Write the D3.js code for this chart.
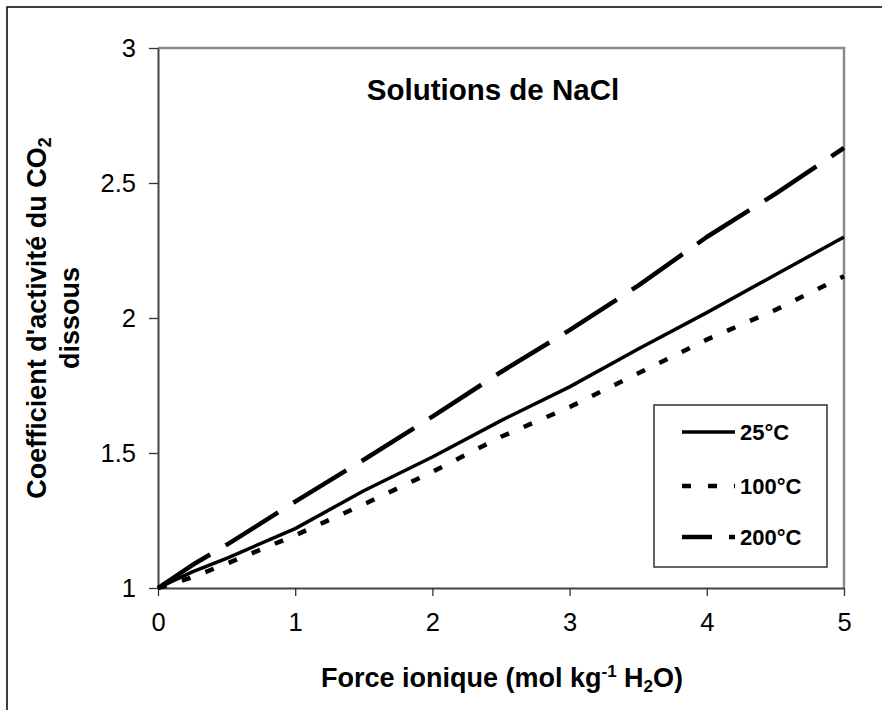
<!DOCTYPE html>
<html>
<head>
<meta charset="utf-8">
<script src="https://cdn.jsdelivr.net/npm/d3@7"></script>
<style>
  html, body { margin: 0; padding: 0; background: #fff; }
  svg { display: block; }
  text { font-family: "Liberation Sans", Arial, sans-serif; fill: #000; }
</style>
</head>
<body>
<script>
// Ionic strength (mol/kg H2O) and activity coefficient of dissolved CO2 in NaCl brines
const ionicStrength = [0, 0.25, 0.5, 1, 1.5, 2, 2.5, 3, 3.5, 4, 4.5, 5];
const gamma25  = [1, 1.06, 1.11, 1.22, 1.36, 1.485, 1.62, 1.745, 1.885, 2.02, 2.16, 2.30];
const gamma100 = [1, 1.04, 1.09, 1.195, 1.31, 1.43, 1.56, 1.67, 1.795, 1.92, 2.03, 2.155];
const gamma200 = [1, 1.085, 1.16, 1.32, 1.475, 1.635, 1.80, 1.955, 2.12, 2.30, 2.46, 2.63];
const seriesNames = ["25°C", "100°C", "200°C"];
const xTicks = [0, 1, 2, 3, 4, 5];
const yTicks = [1, 1.5, 2, 2.5, 3];
const yTickLabels = ["1", "1.5", "2", "2.5", "3"];

const W = 882, H = 710;
const svg = d3.select("body").append("svg").attr("width", W).attr("height", H);

// outer chart border
svg.append("rect").attr("x", 7).attr("y", 7).attr("width", 920).attr("height", 740)
  .attr("fill", "#fff").attr("stroke", "#000").attr("stroke-width", 1.5);

const x = d3.scaleLinear().domain([0, 5]).range([158, 844]);
const y = d3.scaleLinear().domain([1, 3]).range([588, 48]);

// plot area frame (top and right edges)
svg.append("path")
  .attr("d", `M${x(0)},${y(3)}H${x(5)}V${y(1)}`)
  .attr("fill", "none").attr("stroke", "#8a8a8a").attr("stroke-width", 2.5);

// axes
const xAxis = svg.append("g").attr("transform", `translate(0,${y(1)})`)
  .call(d3.axisBottom(x).tickValues(xTicks).tickFormat(d3.format("d")).tickSize(8).tickSizeOuter(0).tickPadding(17));
const yAxis = svg.append("g").attr("transform", `translate(${x(0)},0)`)
  .call(d3.axisLeft(y).tickValues(yTicks).tickFormat((d, i) => yTickLabels[i]).tickSize(9).tickSizeOuter(0).tickPadding(13));
[xAxis, yAxis].forEach(g => {
  g.select(".domain").attr("stroke", "#444").attr("stroke-width", 2);
  g.selectAll(".tick line").attr("stroke", "#333").attr("stroke-width", 1.3);
  g.selectAll(".tick text").attr("font-size", 25.5).attr("fill", "#000")
    .style("font-family", "'Liberation Sans', Arial, sans-serif");
});

// series
const styles = [
  { width: 3.5, dash: null, legendDash: null },
  { width: 4.5, dash: "9,16", legendDash: "9,17" },
  { width: 4.5, dash: "62,18", legendDash: "30,17" }
];
const seriesValues = [gamma25, gamma100, gamma200];
const line = d3.line().x(d => x(d[0])).y(d => y(d[1]));

seriesValues.forEach((vals, i) => {
  const pts = ionicStrength.map((s, j) => [s, vals[j]]);
  svg.append("path").datum(pts)
    .attr("d", line)
    .attr("fill", "none").attr("stroke", "#000")
    .attr("stroke-width", styles[i].width)
    .attr("stroke-linejoin", "round")
    .attr("stroke-dasharray", styles[i].dash);
});

// title
svg.append("text").attr("x", 493).attr("y", 100).attr("text-anchor", "middle")
  .attr("font-size", 29.5).attr("font-weight", "bold").text("Solutions de NaCl");

// x axis title
const xt = svg.append("text").attr("x", 502).attr("y", 687).attr("text-anchor", "middle")
  .attr("font-size", 27).attr("font-weight", "bold");
xt.append("tspan").text("Force ionique (mol kg");
xt.append("tspan").attr("font-size", 17).attr("dy", -10).text("-1");
xt.append("tspan").attr("dy", 10).text(" H");
xt.append("tspan").attr("font-size", 17).attr("dy", 5).text("2");
xt.append("tspan").attr("dy", -5).text("O)");

// y axis title (two lines)
const yt = svg.append("g").attr("transform", `translate(46,${(y(1) + y(3)) / 2}) rotate(-90)`);
const yl1 = yt.append("text").attr("x", 0).attr("y", 0).attr("text-anchor", "middle")
  .attr("font-size", 27).attr("font-weight", "bold");
yl1.append("tspan").text("Coefficient d'activité du CO");
yl1.append("tspan").attr("font-size", 18).attr("dy", 5).text("2");
yt.append("text").attr("x", 0).attr("y", 33).attr("text-anchor", "middle")
  .attr("font-size", 27).attr("font-weight", "bold").text("dissous");

// legend
const lg = svg.append("g");
lg.append("rect").attr("x", 654).attr("y", 405).attr("width", 173).attr("height", 162)
  .attr("fill", "#fff").attr("stroke", "#333").attr("stroke-width", 1.5);
const rowY = [432, 486, 537];
seriesNames.forEach((name, i) => {
  lg.append("line").attr("x1", 682).attr("x2", 735).attr("y1", rowY[i]).attr("y2", rowY[i])
    .attr("stroke", "#000").attr("stroke-width", styles[i].width)
    .attr("stroke-dasharray", styles[i].legendDash);
  lg.append("text").attr("x", 740).attr("y", rowY[i] + 8)
    .attr("font-size", 22).attr("font-weight", "bold").text(name);
});
</script>
</body>
</html>
